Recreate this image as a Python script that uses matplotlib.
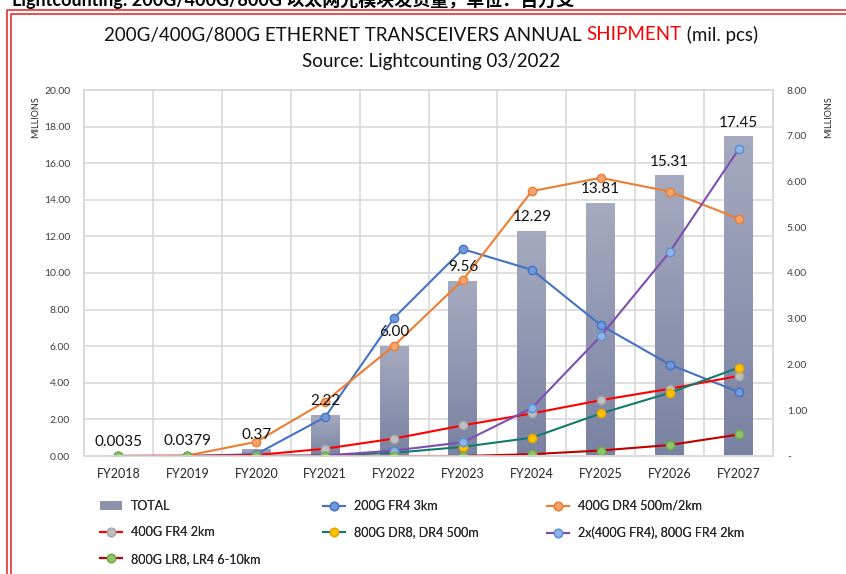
import numpy as np
import matplotlib
matplotlib.use("Agg")
import matplotlib.pyplot as plt
from matplotlib.colors import LinearSegmentedColormap
from matplotlib.lines import Line2D
from matplotlib.patches import Patch

plt.rcParams['font.family'] = ['Lato', 'Noto Sans CJK SC', 'DejaVu Sans']

years = ['FY2018', 'FY2019', 'FY2020', 'FY2021', 'FY2022',
         'FY2023', 'FY2024', 'FY2025', 'FY2026', 'FY2027']
total = [0.0035, 0.0379, 0.37, 2.22, 6.00, 9.56, 12.29, 13.81, 15.31, 17.45]
total_labels = ['0.0035', '0.0379', '0.37', '2.22', '6.00',
                '9.56', '12.29', '13.81', '15.31', '17.45']

fr4_200g = [0, 0, 0.04, 0.85, 3.02, 4.52, 4.07, 2.86, 2.00, 1.40]
dr4_400g = [0, 0.01, 0.31, 1.19, 2.41, 3.85, 5.79, 6.08, 5.78, 5.19]
fr4_400g = [0, 0, 0.02, 0.16, 0.38, 0.67, 0.93, 1.22, 1.47, 1.75]
dr8_800g = [0, 0, 0, 0.01, 0.07, 0.20, 0.40, 0.93, 1.38, 1.93]
fr4_2x = [0, 0, 0, 0.01, 0.12, 0.30, 1.05, 2.62, 4.46, 6.70]
lr8_800g = [0, 0, 0, 0, 0, 0, 0.04, 0.12, 0.24, 0.47]

W, H = 846, 574
fig = plt.figure(figsize=(W / 100, H / 100), dpi=100)
fig.patch.set_facecolor('white')


def px(x, y):
    return x / W, 1 - y / H


# caption above the frame (cut off in the source screenshot)
fig.text(*px(12, 0), 'Lightcounting: 200G/400G/800G 以太网光模块发货量，单位：百万支',
         fontsize=13, fontweight='bold', va='center', ha='left')

# red double frame
for off in (0, 4):
    x0, y0 = px(7 + off, 10 + off * 0.9)
    fig.add_artist(Line2D([x0, x0, 1.01], [-0.01, y0, y0],
                          transform=fig.transFigure, color='#e02020', lw=1.1))

l, b = px(84, 456)
r, t = px(773, 90)
ax = fig.add_axes([l, b, r - l, t - b])
ax2 = ax.twinx()

x = np.arange(len(years))
bw = 0.42
cmap = LinearSegmentedColormap.from_list('bar', ['#7a82a2', '#a5aabf'])
grad = np.linspace(0, 1, 128).reshape(-1, 1)
for xi, v in zip(x, total):
    ax.imshow(grad, extent=[xi - bw / 2, xi + bw / 2, 0, v], origin='lower',
              cmap=cmap, aspect='auto', zorder=2)

ax.set_xlim(-0.5, len(years) - 0.5)
ax.set_ylim(0, 20)
ax2.set_ylim(0, 8)
ax.set_axisbelow(True)

ax.set_yticks(np.arange(0, 21, 2))
ax.set_yticklabels(['%.2f' % v for v in np.arange(0, 21, 2)])
ax2.set_yticks(np.arange(0, 9, 1))
ax2.set_yticklabels(['-' if v == 0 else '%.2f' % v for v in range(9)])
ax.set_xticks(x)
ax.set_xticklabels(years)
ax.set_xticks(np.arange(-0.5, len(years)), minor=True)

ax.grid(axis='y', color='#d9d9d9', lw=1.2)
ax.grid(axis='x', which='minor', color='#d9d9d9', lw=1.2)
ax.tick_params(axis='both', which='both', length=0)
ax.tick_params(axis='y', labelsize=7.5, pad=10, colors='#404040')
ax.tick_params(axis='x', labelsize=9, pad=9, colors='#262626')
ax2.tick_params(axis='y', length=0, labelsize=7.5, pad=10, colors='#404040')
for a in (ax, ax2):
    for s in a.spines.values():
        s.set_color('#d9d9d9')
        s.set_linewidth(1.2)

fig.text(*px(36, 117), 'MILLIONS', rotation=90, fontsize=6.5,
         ha='center', va='center', color='#262626')
fig.text(*px(829, 117), 'MILLIONS', rotation=90, fontsize=6.5,
         ha='center', va='center', color='#262626')

series = [
    ('200G FR4 3km', fr4_200g, '#4472c4', '#7099dc', '#4472c4'),
    ('400G DR4 500m/2km', dr4_400g, '#ed7d31', '#f4a471', '#ed7d31'),
    ('400G FR4 2km', fr4_400g, '#ff0000', '#bfbfbf', '#a5a5a5'),
    ('800G DR8, DR4 500m', dr8_800g, '#157a6e', '#ffc000', '#e3aa00'),
    ('2x(400G FR4), 800G FR4 2km', fr4_2x, '#7e4fb0', '#8fb4e6', '#5b8fd5'),
    ('800G LR8, LR4 6-10km', lr8_800g, '#c00000', '#8fc46a', '#70ad47'),
]
handles = {}
for name, vals, lc, mfc, mec in series:
    h, = ax2.plot(x, vals, color=lc, lw=1.5, marker='o', ms=6,
                  mfc=mfc, mec=mec, mew=1.0, label=name)
    handles[name] = h

for xi, v, s in zip(x, total, total_labels):
    ax2.annotate(s, (xi, v), xycoords=ax.transData, xytext=(0, 5),
                 textcoords='offset points', ha='center', va='bottom',
                 fontsize=11, color='#111111', zorder=10)

# legend: three columns placed separately
bar_handle = Patch(facecolor='#8c93ad', edgecolor='none', label='TOTAL')
columns = [
    (100, [bar_handle, handles['400G FR4 2km'], handles['800G LR8, LR4 6-10km']]),
    (323, [handles['200G FR4 3km'], handles['800G DR8, DR4 500m']]),
    (547, [handles['400G DR4 500m/2km'], handles['2x(400G FR4), 800G FR4 2km']]),
]
for xc, hs in columns:
    leg = fig.legend(handles=hs, labels=[h.get_label() for h in hs],
                     loc='upper left', bbox_to_anchor=px(xc, 500),
                     frameon=False, borderpad=0, borderaxespad=0,
                     fontsize=9, handlelength=1.75, handletextpad=0.7,
                     labelspacing=1.15, labelcolor='#262626')
    fig.add_artist(leg)

# title with red word
fig.canvas.draw()
rend = fig.canvas.get_renderer()
parts = [('200G/400G/800G ETHERNET TRANSCEIVERS ANNUAL ', '#111111'),
         ('SHIPMENT', '#ff0000'), (' (mil. pcs)', '#111111')]
texts = [fig.text(0, 0, p, color=c, fontsize=13.5, va='center', ha='left')
         for p, c in parts]
widths = [tx.get_window_extent(rend).width for tx in texts]
xs = 431 - sum(widths) / 2
for tx, wdt in zip(texts, widths):
    tx.set_position(px(xs, 35))
    xs += wdt
fig.text(*px(431, 61), 'Source: Lightcounting 03/2022', fontsize=13.5,
         ha='center', va='center', color='#111111')

fig.savefig('out.png', dpi=100)
